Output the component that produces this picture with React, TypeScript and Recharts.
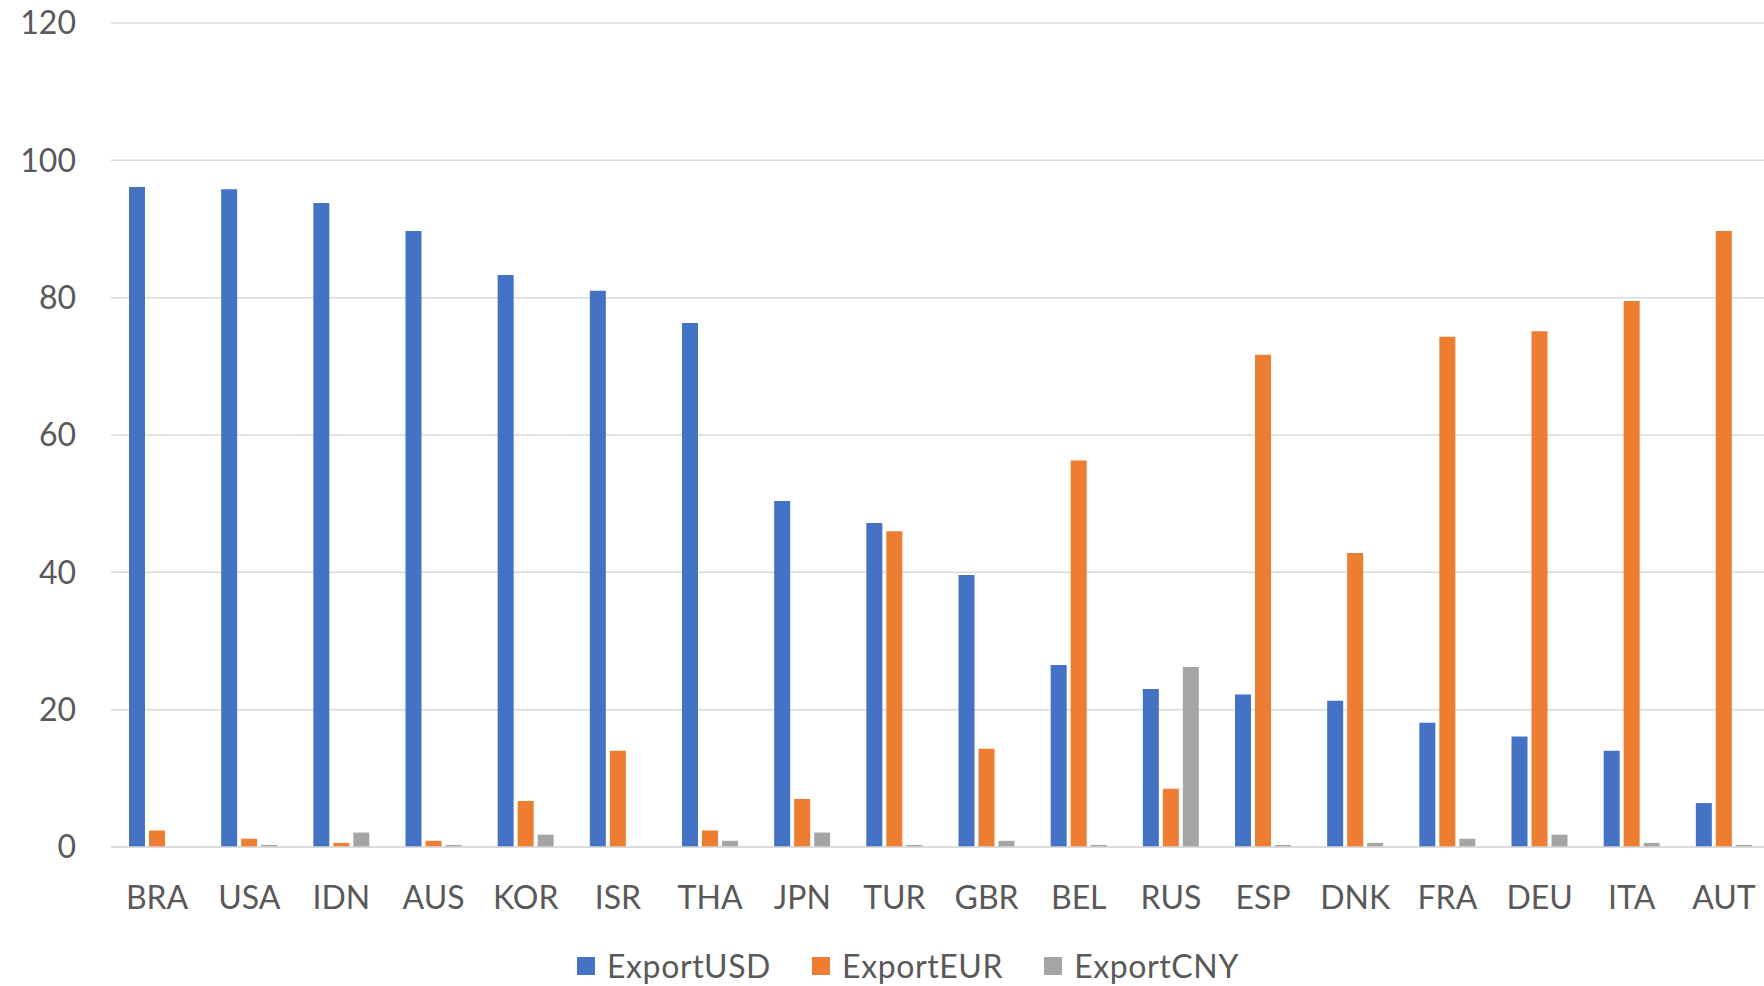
import { BarChart, Bar, XAxis, YAxis, CartesianGrid, Legend } from "recharts";

const countries = ["BRA", "USA", "IDN", "AUS", "KOR", "ISR", "THA", "JPN", "TUR", "GBR", "BEL", "RUS", "ESP", "DNK", "FRA", "DEU", "ITA", "AUT"];
const exportUSD = [96.1, 95.8, 93.8, 89.7, 83.3, 81.0, 76.3, 50.4, 47.2, 39.6, 26.5, 23.0, 22.2, 21.3, 18.1, 16.1, 14.0, 6.4];
const exportEUR = [2.4, 1.2, 0.6, 0.9, 6.7, 14.0, 2.4, 7.0, 46.0, 14.3, 56.3, 8.5, 71.7, 42.8, 74.3, 75.1, 79.5, 89.7];
const exportCNY = [0, 0.3, 2.1, 0.3, 1.8, 0, 0.9, 2.1, 0.3, 0.9, 0.3, 26.2, 0.3, 0.6, 1.2, 1.8, 0.6, 0.3];
const seriesNames = ["ExportUSD", "ExportEUR", "ExportCNY"];
const yTicks = [0, 20, 40, 60, 80, 100, 120];

const data = countries.map((c, i) => ({
  country: c,
  ExportUSD: exportUSD[i],
  ExportEUR: exportEUR[i],
  ExportCNY: exportCNY[i],
}));

const font = "Lato, 'Noto Sans', sans-serif";
const textColor = "#595959";
const gridColor = "#d9d9d9";

function LegendContent({ payload }: any) {
  const items = [...(payload || [])].sort(
    (a: any, b: any) => seriesNames.indexOf(a.value) - seriesNames.indexOf(b.value)
  );
  return (
    <div
      style={{
        height: 69,
        boxSizing: "border-box",
        paddingTop: 28,
        paddingLeft: 577,
        display: "flex",
        fontFamily: font,
        fontSize: 32,
        lineHeight: "32px",
        letterSpacing: 0.6,
        color: textColor,
      }}
    >
      {items.map((p: any) => (
        <div key={p.value} style={{ display: "flex", alignItems: "center", marginRight: 41 }}>
          <span style={{ width: 18, height: 18, background: p.color, marginRight: 12, display: "inline-block" }} />
          <span>{p.value}</span>
        </div>
      ))}
    </div>
  );
}

export default function App() {
  return (
    <div style={{ position: "absolute", left: 0, top: 0, width: 1764, height: 986, background: "#fff", overflow: "hidden" }}>
      <BarChart
        width={1764}
        height={986}
        data={data}
        margin={{ top: 23, right: -6, left: 0, bottom: 0 }}
        barSize={16}
        barGap={4}
      >
        <CartesianGrid vertical={false} stroke={gridColor} strokeWidth={1.5} />
        <XAxis
          dataKey="country"
          height={70}
          tickSize={0}
          tickMargin={39}
          axisLine={{ stroke: gridColor, strokeWidth: 1.5 }}
          tick={{ fontSize: 32, fill: textColor, fontFamily: font }}
          interval={0}
        />
        <YAxis
          width={111}
          domain={[0, 120]}
          ticks={yTicks}
          tickSize={0}
          tickMargin={35}
          axisLine={false}
          tick={{ fontSize: 32, fill: textColor, fontFamily: font }}
        />
        <Legend verticalAlign="bottom" content={<LegendContent />} />
        <Bar dataKey="ExportUSD" fill="#4472C4" isAnimationActive={false} />
        <Bar dataKey="ExportEUR" fill="#ED7D31" isAnimationActive={false} />
        <Bar dataKey="ExportCNY" fill="#A5A5A5" isAnimationActive={false} />
      </BarChart>
    </div>
  );
}
